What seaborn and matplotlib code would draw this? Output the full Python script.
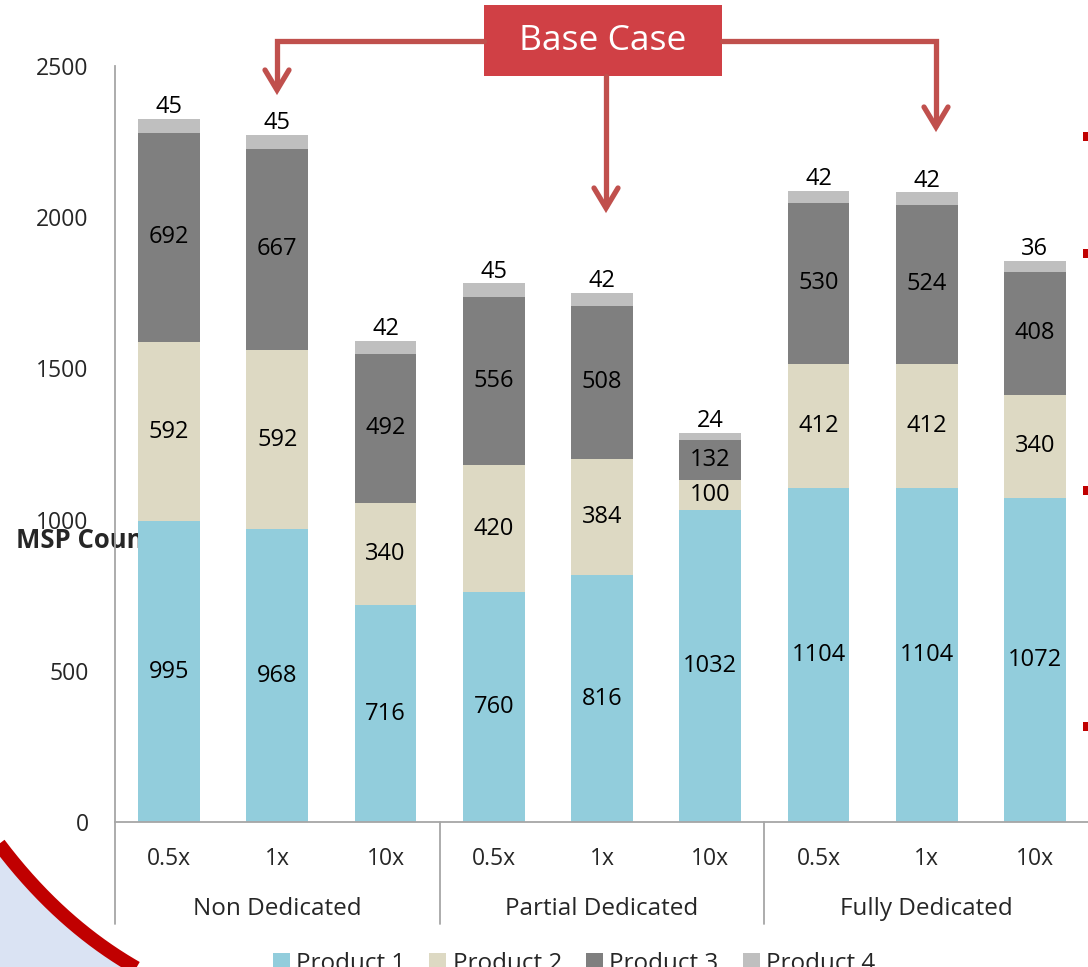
import numpy as np
import matplotlib
matplotlib.use("Agg")
import matplotlib.pyplot as plt
import matplotlib.transforms as mtransforms
from matplotlib.patches import Patch, Rectangle
import seaborn as sns

# ---- data -------------------------------------------------------------
groups = ["Non Dedicated", "Partial Dedicated", "Fully Dedicated"]
scales = ["0.5x", "1x", "10x"]
products = ["Product 1", "Product 2", "Product 3", "Product 4"]
product_1 = [995, 968, 716, 760, 816, 1032, 1104, 1104, 1072]
product_2 = [592, 592, 340, 420, 384, 100, 412, 412, 340]
product_3 = [692, 667, 492, 556, 508, 132, 530, 524, 408]
product_4 = [45, 45, 42, 45, 42, 24, 42, 42, 36]
y_ticks = [0, 500, 1000, 1500, 2000, 2500]
y_label = "MSP Count"
callout = "Base Case"

colors = ["#92CDDC", "#DDD9C3", "#7F7F7F", "#BFBFBF"]
axis_gray = "#A6A6A6"
arrow_red = "#C0504D"

sns.set_style("white")
plt.rcParams["font.family"] = ["Open Sans", "DejaVu Sans"]

W, H = 1088, 967
fig = plt.figure(figsize=(W / 100, H / 100), dpi=100)

# ---- slide background: curved band in the lower-left corner -----------
bg = fig.add_axes([0, 0, 1, 1], zorder=-1)
bg.set_xlim(0, W)
bg.set_ylim(H, 0)
bg.axis("off")
t = np.linspace(-0.4, 1.3, 300)
P0, P1, P2 = np.array([-1, 844]), np.array([60, 925]), np.array([138, 969])
curve = ((1 - t) ** 2)[:, None] * P0 + (2 * (1 - t) * t)[:, None] * P1 + (t ** 2)[:, None] * P2
fill_x = np.concatenate([curve[:, 0], [curve[-1, 0], -200, -200]])
fill_y = np.concatenate([curve[:, 1], [1200, 1200, curve[0, 1]]])
bg.fill(fill_x, fill_y, color="#DAE3F3", lw=0)
bg.plot(curve[:, 0], curve[:, 1], color="#C00000", lw=10, solid_capstyle="butt")

# ---- main chart ---------------------------------------------------------
ax = fig.add_axes([115 / W, 1 - 822 / H, (1089 - 115) / W, (822 - 66) / H], zorder=1)
ax.patch.set_alpha(0)

stack = np.vstack([product_1, product_2, product_3, product_4])
cum = stack.cumsum(axis=0)
bar_ids = [f"{g} {s}" for g in groups for s in scales]

# stacked bars: draw cumulative heights from the top segment downwards
for k in range(len(products) - 1, -1, -1):
    sns.barplot(x=bar_ids, y=cum[k], order=bar_ids, color=colors[k],
                saturation=1, width=0.57, linewidth=0, errorbar=None,
                ax=ax, zorder=2)

ax.set_xlim(-0.5, len(bar_ids) - 0.5)
ax.set_ylim(0, 2500)
ax.set_yticks(y_ticks)
ax.set_yticklabels([str(v) for v in y_ticks])
ax.set_xticks(range(len(bar_ids)))
ax.set_xticklabels(scales * len(groups))
ax.set_xlabel("")
ax.set_ylabel("")
ax.tick_params(axis="y", length=0, pad=19, labelsize=16.5)
ax.tick_params(axis="x", length=0, pad=18, labelsize=16.5)
for side in ["top", "right"]:
    ax.spines[side].set_visible(False)
for side in ["left", "bottom"]:
    ax.spines[side].set_color(axis_gray)
    ax.spines[side].set_linewidth(1.3)

# segment value labels
for i in range(len(bar_ids)):
    for k in range(3):
        ax.text(i, cum[k][i] - stack[k][i] / 2, str(stack[k][i]),
                ha="center", va="center", fontsize=17, color="black", zorder=3)
    ax.annotate(str(stack[3][i]), (i, cum[3][i]), xytext=(0, 8.5),
                textcoords="offset points", ha="center", va="center",
                fontsize=17, color="black", zorder=3)

# group labels and separators under the category axis
blend = mtransforms.blended_transform_factory(ax.transData, ax.transAxes)
for g, name in enumerate(groups):
    ax.text(3 * g + 1, -(909 - 822) / 756, name, transform=blend,
            ha="center", va="center", fontsize=17.5)
for xv in [-0.5, 2.5, 5.5, 8.5]:
    ax.plot([xv, xv], [0, -(924 - 822) / 756], transform=blend,
            color=axis_gray, lw=1.3, clip_on=False)

ax.text(-(115 - 16) / 974, (822 - 541) / 756, y_label, transform=ax.transAxes,
        ha="left", va="center", fontsize=18.5, fontweight="bold", zorder=1,
        clip_on=False)

# legend
handles = [Patch(facecolor=c, edgecolor="none") for c in colors]
fig.legend(handles, products, loc="center", bbox_to_anchor=(574 / W, 1 - 964 / H),
           ncol=4, frameon=False, fontsize=17.5, handlelength=0.7,
           handleheight=0.7, handletextpad=0.25, columnspacing=1.0)

# ---- callout box with arrows -------------------------------------------
fg = fig.add_axes([0, 0, 1, 1], zorder=5)
fg.set_xlim(0, W)
fg.set_ylim(H, 0)
fg.axis("off")
fg.patch.set_alpha(0)

fg.add_patch(Rectangle((484, 5), 238, 71, facecolor="#D04045", edgecolor="none"))
fg.text(603, 41, callout, color="white", fontsize=25.5, ha="center", va="center")

arrow_paths = [
    ([484, 277, 277], [41, 41, 88]),
    ([606, 606], [76, 206]),
    ([722, 936, 936], [41, 41, 125]),
]
for xs, ys in arrow_paths:
    fg.plot(xs, ys, color=arrow_red, lw=3.8, solid_joinstyle="miter")
    tx, ty = xs[-1], ys[-1] + 2
    fg.plot([tx - 12, tx, tx + 12], [ty - 20, ty, ty - 20], color=arrow_red,
            lw=3.8, solid_capstyle="round", solid_joinstyle="miter")

# slide bullet marks at the right edge
for yc in [136, 253, 490, 726]:
    fg.add_patch(Rectangle((1083, yc - 4.5), 6, 9, facecolor="#C00000", edgecolor="none"))

fig.savefig("out.png", dpi=100)
